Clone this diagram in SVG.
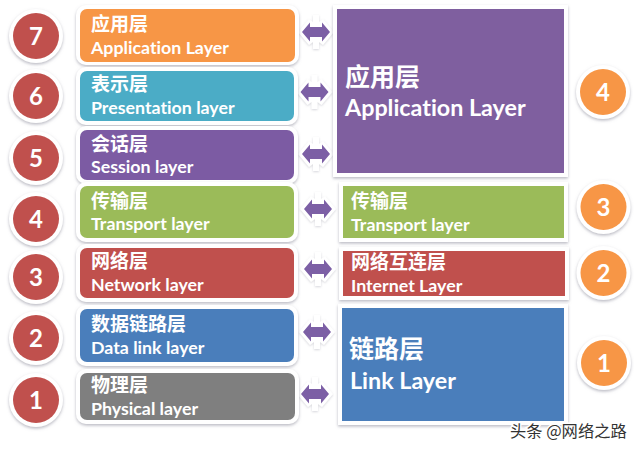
<svg xmlns="http://www.w3.org/2000/svg" width="640" height="452" viewBox="0 0 640 452">
<style>
text{font-family:"Lato","Noto Sans CJK SC",sans-serif;font-weight:700;fill:#fff;font-variant-ligatures:none}
.cn{font-family:"Noto Sans CJK SC",sans-serif;font-size:19px}
.en{font-size:17.800px}
.cnb{font-family:"Noto Sans CJK SC",sans-serif;font-size:25px}
.enb{font-size:23.300px}
.num{font-family:"Lato",sans-serif;font-size:24px;text-anchor:middle}
.frame{fill:#fff;filter:url(#sh)}
.ring{fill:#fff;filter:url(#sh)}
.red{fill:#c0504d}.org{fill:#f79646}
.ar{fill:#7c5fa5;stroke:none}
.arw{fill:#fff;filter:url(#sh2)}
.wm{font-family:"Noto Sans CJK SC",sans-serif;font-size:16.300px;font-weight:400;fill:#333;stroke:#fff;stroke-width:3px;paint-order:stroke}
</style>
<defs>
<filter id="sh" x="-20%" y="-20%" width="140%" height="140%"><feDropShadow dx="0" dy="1.5" stdDeviation="1.500" flood-color="#8a8a9a" flood-opacity="0.6"/></filter>
<filter id="sh2" x="-20%" y="-20%" width="140%" height="140%"><feDropShadow dx="0" dy="1" stdDeviation="1" flood-color="#8a8a9a" flood-opacity="0.35"/></filter>
<g id="dbl"><path class="arw" d="M-18 0L-7 -13L-3 -10V-17H3V-10L7 -13L18 0L7 13L3 10V17H-3V10L-7 13Z"/><path class="ar" d="M-14 0L-6 -9.500V-5H6V-9.500L14 0L6 9.500V5H-6V9.500Z"/></g>
</defs>
<rect width="640" height="452" fill="#fff"/>
<g id="connectors">
<use href="#dbl" x="316" y="32"/>
<use href="#dbl" x="314.500" y="92"/>
<use href="#dbl" x="316" y="154"/>
<use href="#dbl" x="318" y="209"/>
<use href="#dbl" x="318" y="269"/>
<use href="#dbl" x="317" y="332"/>
<use href="#dbl" x="315" y="394"/>
</g>
<g id="n7"><circle class="ring" cx="36" cy="36" r="27"/><circle class="red" cx="36" cy="36" r="23"/><text class="num" x="36" y="45">7</text></g>
<g id="n6"><circle class="ring" cx="36" cy="96" r="27"/><circle class="red" cx="36" cy="96" r="23"/><text class="num" x="36" y="105">6</text></g>
<g id="n5"><circle class="ring" cx="36" cy="158" r="27"/><circle class="red" cx="36" cy="158" r="23"/><text class="num" x="36" y="167">5</text></g>
<g id="n4"><circle class="ring" cx="36" cy="219" r="27"/><circle class="red" cx="36" cy="219" r="23"/><text class="num" x="36" y="228">4</text></g>
<g id="n3"><circle class="ring" cx="36" cy="277" r="27"/><circle class="red" cx="36" cy="277" r="23"/><text class="num" x="36" y="286">3</text></g>
<g id="n2"><circle class="ring" cx="36" cy="338" r="27"/><circle class="red" cx="36" cy="338" r="23"/><text class="num" x="36" y="347">2</text></g>
<g id="n1"><circle class="ring" cx="36" cy="400" r="27"/><circle class="red" cx="36" cy="400" r="23"/><text class="num" x="36" y="409">1</text></g>
<g id="l7"><rect class="frame" x="76" y="5" width="223" height="60" rx="10"/><rect x="80" y="9" width="215" height="53" rx="7" fill="#f79646"/><text class="cn" x="91" y="31">应用层</text><text class="en" x="91" y="54">Application Layer</text></g>
<g id="l6"><rect class="frame" x="76" y="67" width="222" height="58" rx="10"/><rect x="80" y="71" width="214" height="50" rx="7" fill="#4bacc6"/><text class="cn" x="91" y="91">表示层</text><text class="en" x="91" y="114">Presentation layer</text></g>
<g id="l5"><rect class="frame" x="76" y="126" width="222" height="58" rx="10"/><rect x="80" y="130" width="214" height="50" rx="7" fill="#7c5ba3"/><text class="cn" x="91" y="151">会话层</text><text class="en" x="91" y="173">Session layer</text></g>
<g id="l4"><rect class="frame" x="76" y="182" width="222" height="60" rx="10"/><rect x="80" y="186" width="214" height="52" rx="7" fill="#9bbb59"/><text class="cn" x="91" y="208">传输层</text><text class="en" x="91" y="230">Transport layer</text></g>
<g id="l3"><rect class="frame" x="76" y="244" width="222" height="58" rx="10"/><rect x="80" y="248" width="214" height="50" rx="7" fill="#c0504d"/><text class="cn" x="91" y="268">网络层</text><text class="en" x="91" y="291">Network layer</text></g>
<g id="l2"><rect class="frame" x="76" y="305" width="222" height="61" rx="10"/><rect x="80" y="309" width="214" height="53" rx="7" fill="#4a7ebb"/><text class="cn" x="91" y="331">数据链路层</text><text class="en" x="91" y="354">Data link layer</text></g>
<g id="l1"><rect class="frame" x="76" y="369" width="223" height="55" rx="10"/><rect x="80" y="373" width="215" height="47" rx="7" fill="#7f7f7f"/><text class="cn" x="91" y="392">物理层</text><text class="en" x="91" y="415">Physical layer</text></g>
<g id="r4"><rect class="frame" x="333" y="5" width="235" height="172"/><rect x="337" y="9" width="227" height="164" fill="#7f5f9f"/><text class="cnb" x="345" y="86">应用层</text><text class="enb" x="345" y="116">Application Layer</text></g>
<g id="r3"><rect class="frame" x="339" y="182" width="229" height="60"/><rect x="343" y="186" width="221" height="52" fill="#9bbb59"/><text class="cn" x="351" y="208">传输层</text><text class="en" x="351" y="231">Transport layer</text></g>
<g id="r2"><rect class="frame" x="339" y="247" width="230" height="53"/><rect x="343" y="251" width="222" height="45" fill="#c0504d"/><text class="cn" x="351" y="269">网络互连层</text><text class="en" x="351" y="292">Internet Layer</text></g>
<g id="r1"><rect class="frame" x="338" y="304" width="230" height="121"/><rect x="342" y="308" width="222" height="113" fill="#4a7ebb"/><text class="cnb" x="349" y="358">链路层</text><text class="enb" x="350" y="389">Link Layer</text></g>
<g id="c4"><circle class="ring" cx="603" cy="92" r="27"/><circle class="org" cx="603" cy="92" r="23"/><text class="num" x="603" y="101">4</text></g>
<g id="c3"><circle class="ring" cx="603.500" cy="207" r="27"/><circle class="org" cx="603.500" cy="207" r="23"/><text class="num" x="603.500" y="216">3</text></g>
<g id="c2"><circle class="ring" cx="603.500" cy="273" r="27"/><circle class="org" cx="603.500" cy="273" r="23"/><text class="num" x="603.500" y="282">2</text></g>
<g id="c1"><circle class="ring" cx="604" cy="363" r="27"/><circle class="org" cx="604" cy="363" r="23"/><text class="num" x="604" y="372">1</text></g>
<text class="wm" x="510" y="437">头条 @网络之路</text>
</svg>
